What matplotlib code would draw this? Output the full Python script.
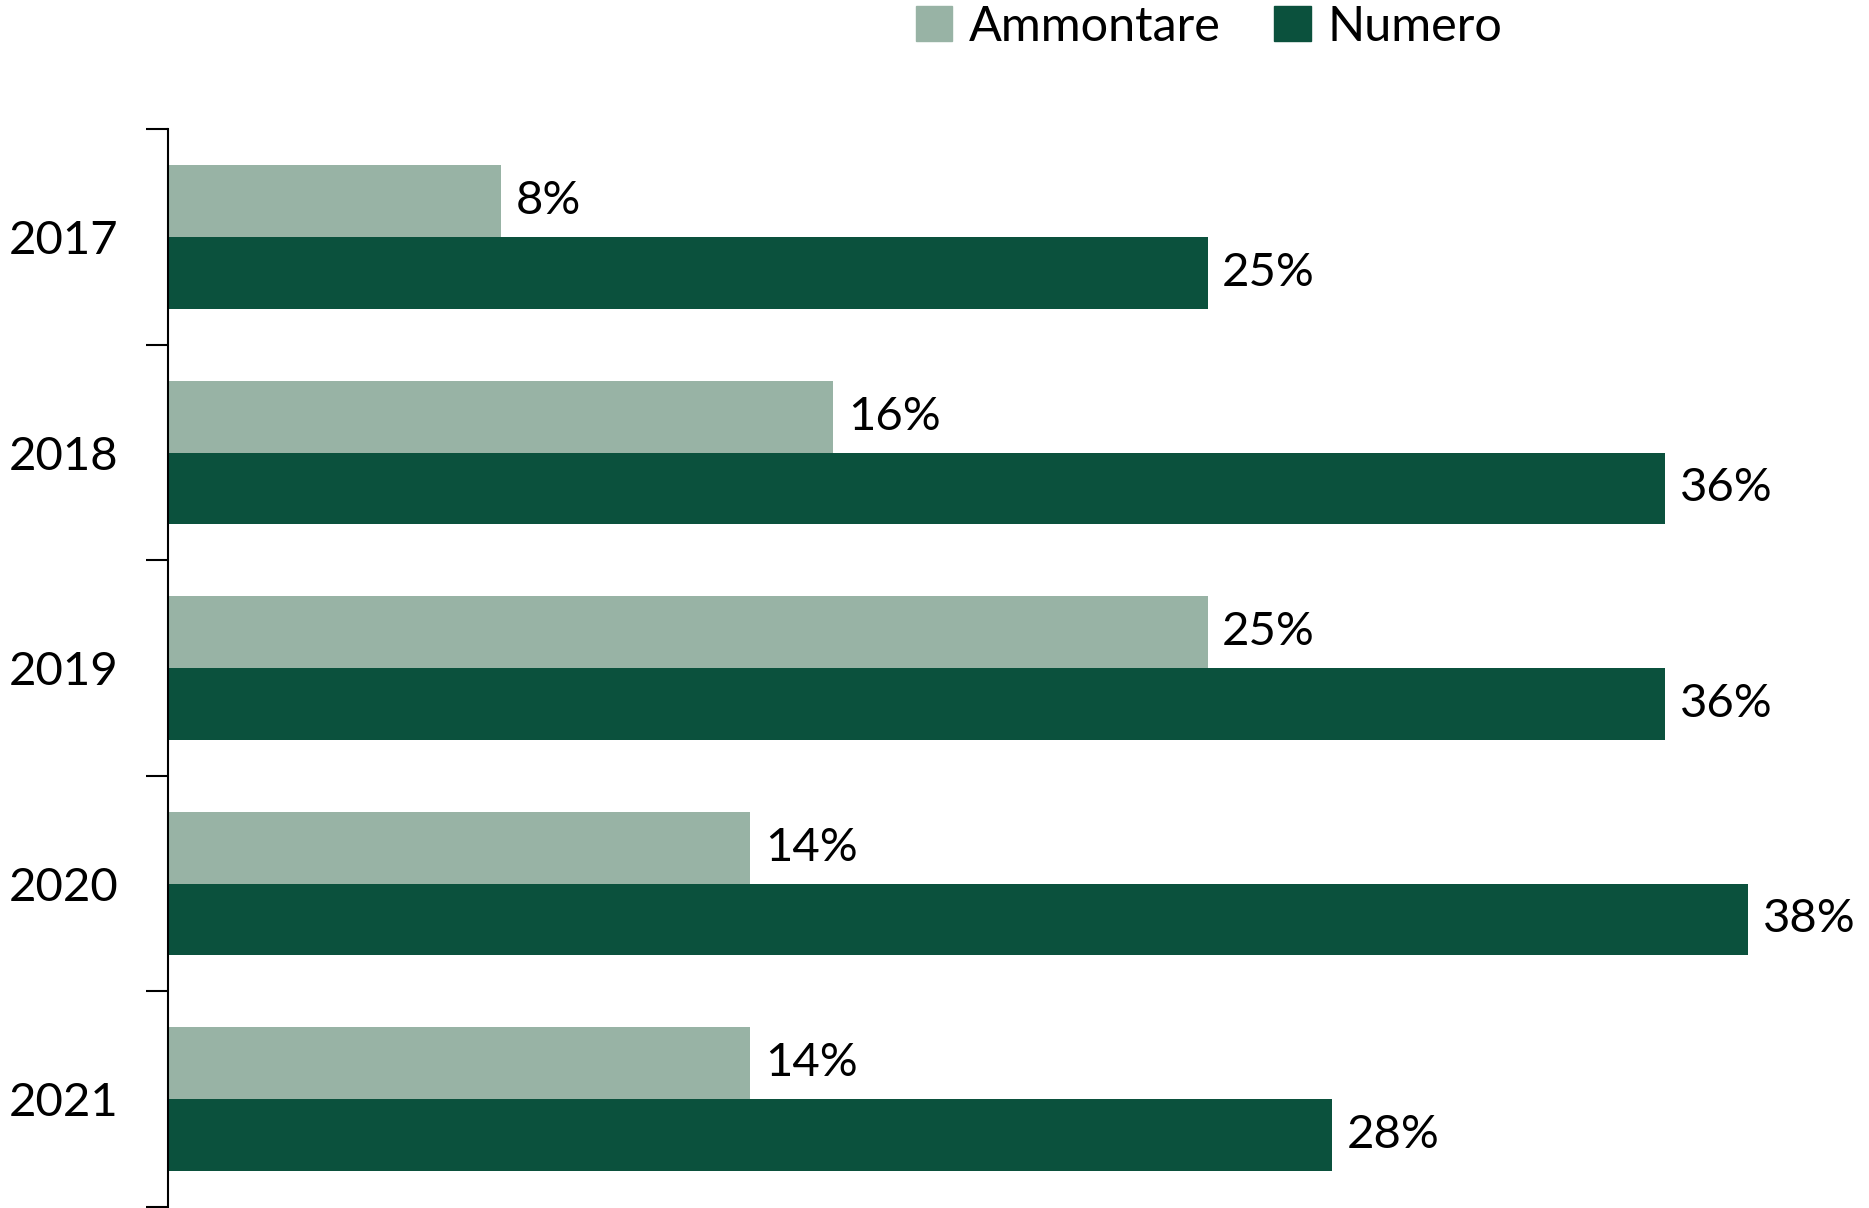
import numpy as np
import matplotlib.pyplot as plt
from matplotlib.patches import Patch

years = ['2017', '2018', '2019', '2020', '2021']
ammontare = [8, 16, 25, 14, 14]
numero = [25, 36, 36, 38, 28]

c_light = '#98B3A5'
c_dark = '#0B513D'

plt.rcParams['font.family'] = ['Lato', 'DejaVu Sans']

fig = plt.figure(figsize=(18.69, 12.08), dpi=100)
ax = fig.add_axes([0.0899, 0.001, 0.89, 0.892])

y = np.arange(len(years))
h = 1 / 3
ax.barh(y - h / 2, ammontare, height=h, color=c_light)
ax.barh(y + h / 2, numero, height=h, color=c_dark)

for i in range(len(years)):
    ax.text(ammontare[i] + 0.35, y[i] - h / 2, '%d%%' % ammontare[i], va='center', ha='left', fontsize=34)
    ax.text(numero[i] + 0.35, y[i] + h / 2, '%d%%' % numero[i], va='center', ha='left', fontsize=34)

ax.set_xlim(0, 40)
ax.set_ylim(len(years) - 0.5, -0.5)
ax.set_yticks(y, years, fontsize=34)
ax.set_yticks(np.arange(-0.5, len(years), 1), minor=True)
ax.tick_params(axis='y', which='major', length=0, pad=36)
ax.tick_params(axis='y', which='minor', length=16, width=1.5, direction='out')
ax.set_xticks([])
for s in ['top', 'right', 'bottom']:
    ax.spines[s].set_visible(False)
ax.spines['left'].set_linewidth(1.5)

handles = [Patch(color=c_light, label='Ammontare'), Patch(color=c_dark, label='Numero')]
fig.legend(handles=handles, loc='center', bbox_to_anchor=(0.647, 0.978), ncol=2, frameon=False,
           fontsize=35, handlelength=0.75, handleheight=0.75, handletextpad=0.35, columnspacing=1.1)

fig.savefig('out.png', dpi=100)
